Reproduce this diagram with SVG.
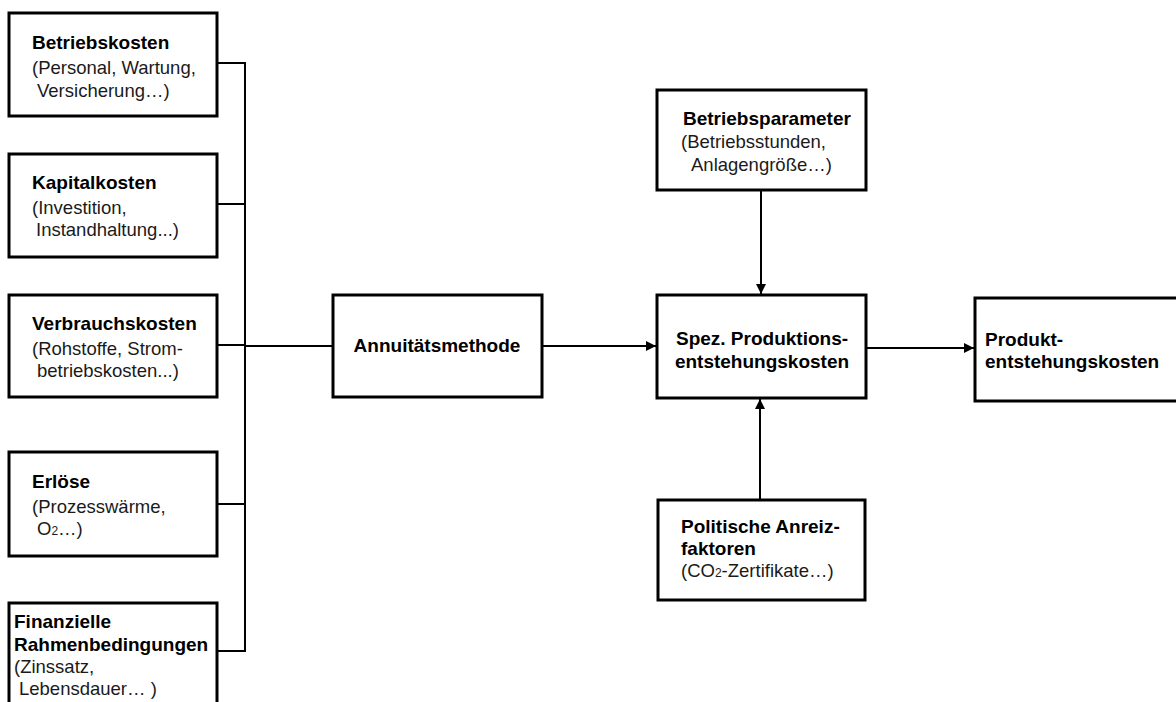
<svg xmlns="http://www.w3.org/2000/svg" width="1176" height="702" viewBox="0 0 1176 702">
<style>
.box{fill:#fff;stroke:#000;stroke-width:3}
.b{font-family:"Liberation Sans",Arial,sans-serif;font-weight:bold;font-size:19px;fill:#000}
.r{font-family:"Liberation Sans",Arial,sans-serif;font-size:18.5px;fill:#1a1a1a}
.sub{font-size:12px}
.ln{fill:none;stroke:#000;stroke-width:2}
</style>
<defs>
<marker id="ah" viewBox="0 0 10 10" refX="10" refY="5" markerWidth="5" markerHeight="5" orient="auto" markerUnits="strokeWidth">
<path d="M0,0 L10,5 L0,10 z" fill="#000"/>
</marker>
</defs>
<rect width="1176" height="702" fill="#fff"/>
<g id="connectors">
<path class="ln" d="M217,63 H245 M217,204 H245 M217,345 H245 M217,504 H245 M217,651 H245 M245,62 V652 M245,346 H333"/>
<path class="ln" d="M542,346 H656" marker-end="url(#ah)"/>
<path class="ln" d="M761,190 V294" marker-end="url(#ah)"/>
<path class="ln" d="M760,500 V399" marker-end="url(#ah)"/>
<path class="ln" d="M866,348 H974" marker-end="url(#ah)"/>
</g>
<g id="betriebskosten">
<rect class="box" x="9" y="13" width="208" height="103"/>
<text class="b" x="32" y="49">Betriebskosten</text>
<text class="r" x="32" y="74">(Personal, Wartung,</text>
<text class="r" x="37" y="97">Versicherung…)</text>
</g>
<g id="kapitalkosten">
<rect class="box" x="9" y="154" width="208" height="103"/>
<text class="b" x="32" y="189">Kapitalkosten</text>
<text class="r" x="32" y="214">(Investition,</text>
<text class="r" x="36" y="236">Instandhaltung...)</text>
</g>
<g id="verbrauchskosten">
<rect class="box" x="9" y="295" width="208" height="102"/>
<text class="b" x="32" y="330">Verbrauchskosten</text>
<text class="r" x="32" y="355">(Rohstoffe, Strom-</text>
<text class="r" x="37" y="377">betriebskosten...)</text>
</g>
<g id="erloese">
<rect class="box" x="9" y="452" width="208" height="104"/>
<text class="b" x="32" y="488">Erlöse</text>
<text class="r" x="32" y="513">(Prozesswärme,</text>
<text class="r" x="37" y="535">O<tspan class="sub">2</tspan>…)</text>
</g>
<g id="finanzielle">
<rect class="box" x="9" y="603" width="208" height="110"/>
<text class="b" x="14" y="628">Finanzielle</text>
<text class="b" x="14" y="651">Rahmenbedingungen</text>
<text class="r" x="14" y="673">(Zinssatz,</text>
<text class="r" x="19" y="695">Lebensdauer… )</text>
</g>
<g id="annuitaet">
<rect class="box" x="333" y="295" width="209" height="102"/>
<text class="b" x="437" y="352" text-anchor="middle">Annuitätsmethode</text>
</g>
<g id="betriebsparameter">
<rect class="box" x="657" y="90" width="209" height="100"/>
<text class="b" x="683" y="125">Betriebsparameter</text>
<text class="r" x="681" y="148">(Betriebsstunden,</text>
<text class="r" x="691" y="171">Anlagengröße…)</text>
</g>
<g id="spez">
<rect class="box" x="657" y="295" width="209" height="103"/>
<text class="b" x="762" y="345" text-anchor="middle">Spez. Produktions-</text>
<text class="b" x="762" y="368" text-anchor="middle">entstehungskosten</text>
</g>
<g id="produkt">
<rect class="box" x="975" y="298" width="210" height="103"/>
<text class="b" x="985" y="346">Produkt-</text>
<text class="b" x="985" y="368">entstehungskosten</text>
</g>
<g id="politische">
<rect class="box" x="658" y="500" width="207" height="100"/>
<text class="b" x="681" y="533">Politische Anreiz-</text>
<text class="b" x="681" y="555">faktoren</text>
<text class="r" x="681" y="577">(CO<tspan class="sub">2</tspan>-Zertifikate…)</text>
</g>
</svg>
